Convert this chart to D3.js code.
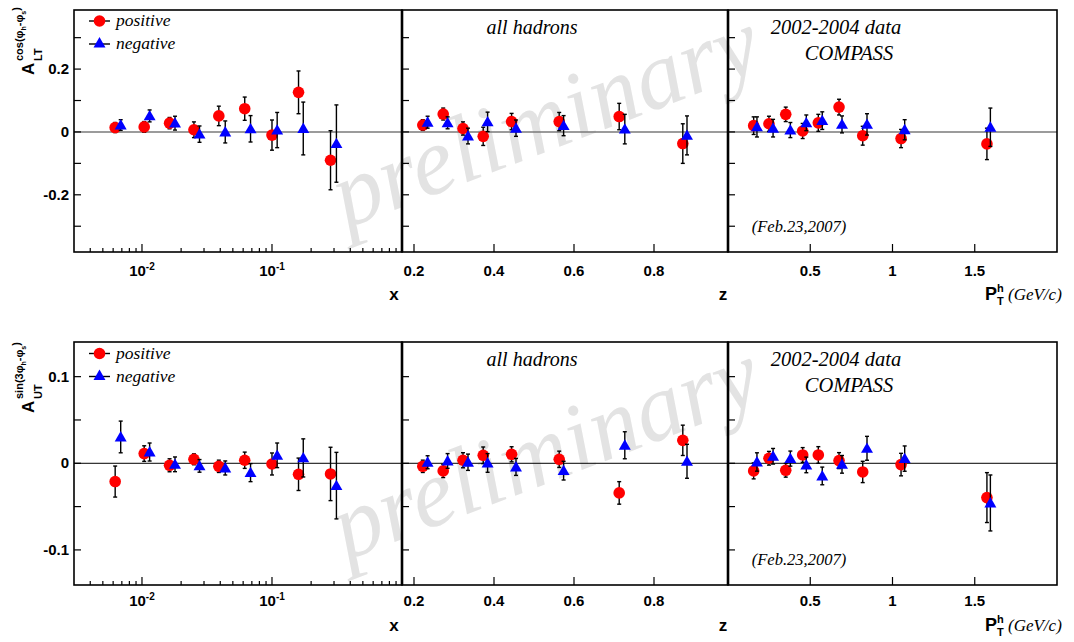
<!DOCTYPE html>
<html><head><meta charset="utf-8">
<script src="https://cdn.jsdelivr.net/npm/d3@7"></script>
<style>
body{margin:0;background:#fff;}
svg{display:block;}
</style></head>
<body>
<svg id="c" width="1074" height="642"></svg>
<script>
// ---------- data ----------
const xPos  = [0.00622, 0.0104, 0.0163, 0.0251, 0.039, 0.0617, 0.100, 0.160, 0.282];
const xNeg  = [0.00686, 0.01145, 0.01795, 0.0277, 0.0437, 0.0684, 0.1096, 0.174, 0.313];
const zPos  = [0.222, 0.273, 0.3225, 0.373, 0.444, 0.563, 0.713, 0.872];
const zNeg  = [0.234, 0.284, 0.335, 0.384, 0.455, 0.574, 0.727, 0.8825];
const ptPos = [0.156, 0.249, 0.351, 0.454, 0.549, 0.675, 0.819, 1.052, 1.574];
const ptNeg = [0.176, 0.274, 0.379, 0.476, 0.573, 0.693, 0.845, 1.074, 1.595];

// A_LT^cos(phi_h - phi_s)
const cosXPos     = [0.014, 0.016, 0.028, 0.007, 0.051, 0.074, -0.010, 0.126, -0.090];
const cosXPosErr  = [0.016, 0.017, 0.018, 0.025, 0.031, 0.037, 0.048, 0.068, 0.094];
const cosXNeg     = [0.022, 0.051, 0.028, -0.007, 0.000, 0.010, 0.006, 0.011, -0.037];
const cosXNegErr  = [0.017, 0.019, 0.022, 0.026, 0.035, 0.042, 0.056, 0.084, 0.123];
const cosZPos     = [0.022, 0.057, 0.011, -0.014, 0.033, 0.033, 0.049, -0.037];
const cosZPosErr  = [0.017, 0.019, 0.021, 0.029, 0.026, 0.029, 0.042, 0.063];
const cosZNeg     = [0.031, 0.029, -0.013, 0.032, 0.012, 0.020, 0.009, -0.011];
const cosZNegErr  = [0.019, 0.019, 0.025, 0.031, 0.026, 0.032, 0.047, 0.062];
const cosPtPos    = [0.020, 0.026, 0.056, 0.003, 0.029, 0.079, -0.012, -0.021, -0.038];
const cosPtPosErr = [0.028, 0.024, 0.023, 0.024, 0.027, 0.025, 0.030, 0.029, 0.050];
const cosPtNeg    = [0.016, 0.012, 0.006, 0.029, 0.036, 0.024, 0.024, 0.007, 0.015];
const cosPtNegErr = [0.032, 0.028, 0.024, 0.025, 0.028, 0.027, 0.034, 0.032, 0.061];

// A_UT^sin(3phi_h - phi_s)
const sinXPos     = [-0.0211, 0.0112, -0.0023, 0.0046, -0.0035, 0.0035, -0.0008, -0.0127, -0.0123];
const sinXPosErr  = [0.0179, 0.0090, 0.0075, 0.0063, 0.0071, 0.0094, 0.0127, 0.0187, 0.0308];
const sinXNeg     = [0.0304, 0.0130, -0.0012, -0.0030, -0.0054, -0.0108, 0.0092, 0.0062, -0.0258];
const sinXNegErr  = [0.0183, 0.0104, 0.0085, 0.0073, 0.0081, 0.0104, 0.0142, 0.0220, 0.0384];
const sinZPos     = [-0.0035, -0.0088, 0.0035, 0.0092, 0.0104, 0.0046, -0.0342, 0.0265];
const sinZPosErr  = [0.0071, 0.0077, 0.0087, 0.0096, 0.0087, 0.0094, 0.0130, 0.0175];
const sinZNeg     = [0.0012, 0.0027, 0.0012, 0.0004, -0.0042, -0.0085, 0.0208, 0.0023];
const sinZNegErr  = [0.0075, 0.0085, 0.0094, 0.0108, 0.0098, 0.0108, 0.0156, 0.0196];
const sinPtPos    = [-0.0088, 0.0058, -0.0081, 0.0096, 0.0096, 0.0031, -0.0100, -0.0015, -0.0396];
const sinPtPosErr = [0.0092, 0.0079, 0.0079, 0.0085, 0.0096, 0.0092, 0.0123, 0.0130, 0.0288];
const sinPtNeg    = [0.0015, 0.0081, 0.0054, -0.0019, -0.0146, -0.0012, 0.0173, 0.0054, -0.0458];
const sinPtNegErr = [0.0106, 0.0090, 0.0087, 0.0090, 0.0102, 0.0102, 0.0138, 0.0146, 0.0323];

const zTicks  = [0.2, 0.4, 0.6, 0.8];
const ptTicks = [0.5, 1, 1.5];
const topYTicks = [-0.3, -0.2, -0.1, 0, 0.1, 0.2, 0.3];
const topYLabels = ["-0.2", "0", "0.2"];
const botYTicks = [-0.1, -0.05, 0, 0.05, 0.1];
const botYLabels = ["-0.1", "0", "0.1"];
const seriesNames = ["positive", "negative"];

// ---------- layout ----------
const svg = d3.select("#c");
const SANS = "'Liberation Sans', Arial, Helvetica, sans-serif";
const SERIF = "'Liberation Serif', 'Times New Roman', serif";
const RED = "#ff0000", BLUE = "#0000ff";

const rows = [
  {top: 10, bottom: 252, y: d3.scaleLinear([-0.382, 0.388], [252, 10]), yTicks: topYTicks, yLabels: topYLabels,
   zeroColor: "#7a7a7a", zeroW: 1.6, tickLabelY: 276, titleY: 300,
   data: [[cosXPos, cosXPosErr, cosXNeg, cosXNegErr],[cosZPos, cosZPosErr, cosZNeg, cosZNegErr],[cosPtPos, cosPtPosErr, cosPtNeg, cosPtNegErr]],
   ylab: {A:"A", sub:"LT", fn:"cos(φ", x:34, y:75}},
  {top: 342, bottom: 585, y: d3.scaleLinear([-0.1405, 0.14], [585, 342]), yTicks: botYTicks, yLabels: botYLabels,
   zeroColor: "#000", zeroW: 1, tickLabelY: 606, titleY: 631,
   data: [[sinXPos, sinXPosErr, sinXNeg, sinXNegErr],[sinZPos, sinZPosErr, sinZNeg, sinZNegErr],[sinPtPos, sinPtPosErr, sinPtNeg, sinPtNegErr]],
   ylab: {A:"A", sub:"UT", fn:"sin(3φ", x:34, y:413}}
];

const xScales = [
  d3.scaleLog([0.003, 1], [74, 402]),
  d3.scaleLinear([0.17, 0.985], [402, 728]),
  d3.scaleLinear([0, 2], [728, 1057])
];
const xVals = [[xPos, xNeg], [zPos, zNeg], [ptPos, ptNeg]];

// watermark (behind everything)
rows.forEach(r => {
  const cy = r.top + 138;
  svg.append("text").attr("transform", `translate(556,${cy}) rotate(-21)`)
    .attr("text-anchor", "middle").attr("font-family", SERIF).attr("font-style", "italic")
    .attr("font-size", 96).attr("fill", "#e3e3e3").text("preliminary");
});

const triPath = d3.symbol().type(d3.symbolTriangle).size(62)();

rows.forEach((r, ri) => {
  const y = r.y;
  xScales.forEach((xs, pi) => {
    const [x0, x1] = xs.range();
    const g = svg.append("g");
    // zero line
    g.append("line").attr("x1", x0).attr("x2", x1).attr("y1", y(0)).attr("y2", y(0))
      .attr("stroke", r.zeroColor).attr("stroke-width", r.zeroW);
    // y ticks (inward)
    r.yTicks.forEach(t => {
      g.append("line").attr("x1", x0).attr("x2", x0 + 7).attr("y1", y(t)).attr("y2", y(t))
        .attr("stroke", "#000").attr("stroke-width", 1.2);
    });
    // x ticks
    if (pi === 0) {
      const majors = [0.01, 0.1];
      const minors = [];
      [0.001, 0.01, 0.1].forEach(d => { for (let k = 2; k <= 9; k++) { const v = k * d; if (v > 0.003 && v < 1) minors.push(v); } });
      majors.forEach(t => g.append("line").attr("x1", xs(t)).attr("x2", xs(t)).attr("y1", r.bottom).attr("y2", r.bottom - 8).attr("stroke", "#000").attr("stroke-width", 1.2));
      minors.forEach(t => g.append("line").attr("x1", xs(t)).attr("x2", xs(t)).attr("y1", r.bottom).attr("y2", r.bottom - 4).attr("stroke", "#000").attr("stroke-width", 1.2));
      majors.forEach((t, i) => {
        const tx = g.append("text").attr("x", xs(t)).attr("y", r.tickLabelY).attr("text-anchor", "middle")
          .attr("font-family", SANS).attr("font-weight", "bold").attr("font-size", 15);
        tx.append("tspan").text("10");
        tx.append("tspan").attr("dy", -6).attr("font-size", 10).text(i === 0 ? "-2" : "-1");
      });
    } else {
      const ticks = pi === 1 ? zTicks : ptTicks;
      ticks.forEach(t => {
        g.append("line").attr("x1", xs(t)).attr("x2", xs(t)).attr("y1", r.bottom).attr("y2", r.bottom - 8).attr("stroke", "#000").attr("stroke-width", 1.2);
        g.append("text").attr("x", xs(t)).attr("y", r.tickLabelY).attr("text-anchor", "middle")
          .attr("font-family", SANS).attr("font-weight", "bold").attr("font-size", 15).text(String(t));
      });
    }
    // data
    const [pv, pe, nv, ne] = r.data[pi];
    const [xp, xn] = xVals[pi];
    const series = [{xv: xp, v: pv, e: pe, color: RED, tri: false}, {xv: xn, v: nv, e: ne, color: BLUE, tri: true}];
    series.forEach(s => {
      s.v.forEach((v, i) => {
        const cx = xs(s.xv[i]);
        const yt = y(v + s.e[i]), yb = y(v - s.e[i]);
        g.append("line").attr("x1", cx).attr("x2", cx).attr("y1", yt).attr("y2", yb).attr("stroke", "#000").attr("stroke-width", 1.4);
        [yt, yb].forEach(yy => g.append("line").attr("x1", cx - 2).attr("x2", cx + 2).attr("y1", yy).attr("y2", yy).attr("stroke", "#000").attr("stroke-width", 1.4));
      });
      s.v.forEach((v, i) => {
        const cx = xs(s.xv[i]), cy = y(v);
        if (s.tri) g.append("path").attr("d", triPath).attr("transform", `translate(${cx},${cy + 1})`).attr("fill", s.color);
        else g.append("circle").attr("cx", cx).attr("cy", cy).attr("r", 5.8).attr("fill", s.color);
      });
    });
    // frame
    g.append("rect").attr("x", x0).attr("y", r.top).attr("width", x1 - x0).attr("height", r.bottom - r.top)
      .attr("fill", "none").attr("stroke", "#000").attr("stroke-width", 1.6);
  });
  // separators thicker
  [402, 728].forEach(sx => svg.append("line").attr("x1", sx).attr("x2", sx).attr("y1", r.top).attr("y2", r.bottom).attr("stroke", "#000").attr("stroke-width", 2.6));

  // y tick labels
  r.yLabels.forEach(t => {
    svg.append("text").attr("x", 69).attr("y", y(+t) + 5).attr("text-anchor", "end")
      .attr("font-family", SANS).attr("font-weight", "bold").attr("font-size", 15).text(t);
  });

  // y axis label (rotated)
  const L = r.ylab;
  const yg = svg.append("g").attr("transform", `translate(${L.x},${L.y}) rotate(-90)`)
    .attr("font-family", SANS).attr("font-weight", "bold");
  yg.append("text").attr("x", 0).attr("y", 0).attr("font-size", 17).text(L.A);
  yg.append("text").attr("x", 14).attr("y", 8).attr("font-size", 11).text(L.sub);
  const sup = yg.append("text").attr("x", 14).attr("y", -11).attr("font-size", 11);
  sup.append("tspan").text(L.fn);
  sup.append("tspan").attr("font-size", 7).attr("dy", 3).text("h");
  sup.append("tspan").attr("dy", -3).text("-φ");
  sup.append("tspan").attr("font-size", 7).attr("dy", 3).text("s");
  sup.append("tspan").attr("dy", -6).text(")");

  // axis titles
  svg.append("text").attr("x", 394).attr("y", r.titleY).attr("text-anchor", "middle")
    .attr("font-family", SANS).attr("font-weight", "bold").attr("font-size", 17).text("x");
  svg.append("text").attr("x", 723).attr("y", r.titleY).attr("text-anchor", "middle")
    .attr("font-family", SANS).attr("font-weight", "bold").attr("font-size", 17).text("z");
  svg.append("text").attr("x", 985).attr("y", r.titleY).attr("font-family", SANS).attr("font-weight", "bold").attr("font-size", 18).text("P");
  svg.append("text").attr("x", 997).attr("y", r.titleY - 8).attr("font-family", SANS).attr("font-weight", "bold").attr("font-size", 11).text("h");
  svg.append("text").attr("x", 997).attr("y", r.titleY + 5).attr("font-family", SANS).attr("font-weight", "bold").attr("font-size", 11).text("T");
  svg.append("text").attr("x", 1008).attr("y", r.titleY).attr("font-family", SERIF).attr("font-style", "italic").attr("font-size", 17).text("(GeV/c)");

  // legend
  const off = r.top - 10;
  seriesNames.forEach((nm, i) => {
    const ly = off + (i === 0 ? 21 : 44) + (ri === 1 ? 0.5 : 0);
    svg.append("line").attr("x1", 89).attr("x2", 110).attr("y1", ly).attr("y2", ly).attr("stroke", "#000").attr("stroke-width", 1.4);
    if (i === 0) svg.append("circle").attr("cx", 99.5).attr("cy", ly).attr("r", 5.8).attr("fill", RED);
    else svg.append("path").attr("d", triPath).attr("transform", `translate(99.5,${ly})`).attr("fill", BLUE);
    svg.append("text").attr("x", 116).attr("y", ly + 5).attr("font-family", SERIF).attr("font-style", "italic").attr("font-size", 17.5).text(nm);
  });

  // panel texts
  svg.append("text").attr("x", 532).attr("y", off + 34).attr("text-anchor", "middle").attr("font-family", SERIF).attr("font-style", "italic").attr("font-size", 20).text("all hadrons");
  svg.append("text").attr("x", 836).attr("y", off + 34).attr("text-anchor", "middle").attr("font-family", SERIF).attr("font-style", "italic").attr("font-size", 20.5).text("2002-2004 data");
  svg.append("text").attr("x", 849).attr("y", off + 60).attr("text-anchor", "middle").attr("font-family", SERIF).attr("font-style", "italic").attr("font-size", 20.5).text("COMPASS");
  svg.append("text").attr("x", 799).attr("y", off + 232 + (ri === 1 ? 1 : 0)).attr("text-anchor", "middle").attr("font-family", SERIF).attr("font-style", "italic").attr("font-size", 16.5).text("(Feb.23,2007)");
});
</script>
</body></html>
